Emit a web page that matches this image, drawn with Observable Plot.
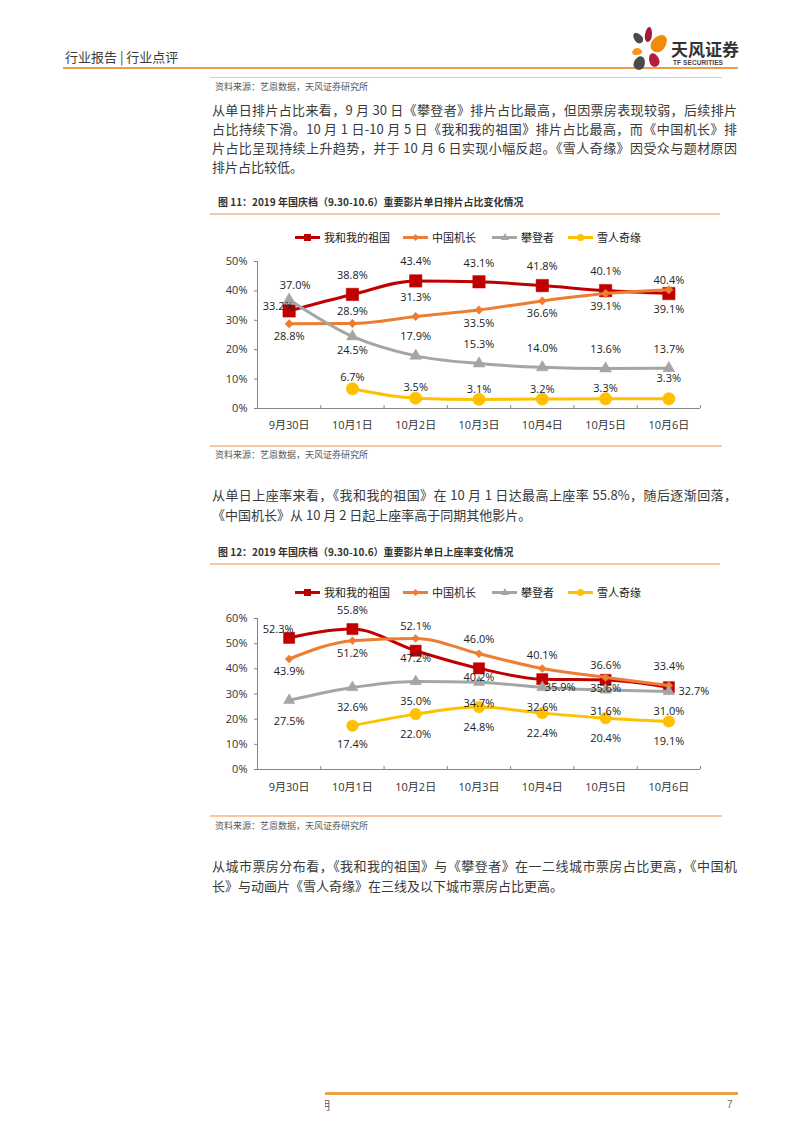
<!DOCTYPE html>
<html><head><meta charset="utf-8">
<script src="https://cdn.jsdelivr.net/npm/d3@7"></script>
<script src="https://cdn.jsdelivr.net/npm/@observablehq/plot@0.6"></script>
<style>
body{margin:0;background:#fff;}
#page{position:relative;width:802px;height:1133px;overflow:hidden;font-family:"Noto Sans CJK SC","Noto Sans",sans-serif;color:#333;background:#fff;}
.abs{position:absolute;white-space:nowrap;}
.rule{position:absolute;}
.pl{position:absolute;left:212px;width:525px;font-size:13px;height:20px;line-height:20px;text-align:justify;text-align-last:justify;white-space:nowrap;color:#3a3a3a;}
.pl.last{text-align-last:left;}
.src{position:absolute;left:215px;font-size:9px;line-height:12px;height:12px;color:#595959;white-space:nowrap;}
.ftitle{position:absolute;left:218px;font-size:10px;line-height:14px;height:14px;font-weight:bold;color:#333;white-space:nowrap;}
.petal{position:absolute;border-radius:50% 50% 50% 50% / 60% 60% 40% 40%;}
.leg{position:absolute;height:14px;display:flex;align-items:center;font-size:11px;color:#222;white-space:nowrap;}
.leg .sw{position:relative;width:25px;height:3px;margin-right:4px;}
.leg .mk{position:absolute;left:50%;top:50%;}
.chart{position:absolute;left:210px;}
.chart svg{display:block;}
</style>
</head><body>
<div id="page">
  <!-- header -->
  <div class="abs" style="left:65px;top:49px;font-size:13px;line-height:16px;color:#3a3a3a;">行业报告&nbsp;|&nbsp;行业点评</div>
  <div class="rule" style="left:63px;top:67px;width:675px;height:2px;background:#EE9D4C;"></div>
  <!-- logo -->
  <div class="petal" style="left:634px;top:32px;width:8px;height:12px;background:#4a4a4a;transform:rotate(-40deg);"></div>
  <div class="petal" style="left:645px;top:27px;width:7px;height:15px;background:#A31A32;transform:rotate(8deg);"></div>
  <div class="petal" style="left:652px;top:34px;width:14px;height:19px;background:#F08B0C;transform:rotate(40deg);"></div>
  <div class="petal" style="left:632px;top:48px;width:10px;height:7px;background:#F39A1E;transform:rotate(-10deg);"></div>
  <div class="petal" style="left:649px;top:53px;width:10px;height:14px;background:#B4203C;transform:rotate(-20deg);"></div>
  <div class="petal" style="left:634px;top:56px;width:11px;height:14px;background:#4a4a4a;transform:rotate(20deg);"></div>
  <div class="abs" style="left:671px;top:40px;font-size:17px;line-height:18px;height:18px;font-weight:bold;color:#333;">天风证券</div>
  <div class="abs" style="left:673px;top:59px;font-size:6.5px;line-height:7px;height:7px;font-weight:bold;color:#444;font-family:'Liberation Sans',sans-serif;letter-spacing:0.1px;">TF SECURITIES</div>

  <div class="rule" style="left:210px;top:77px;width:512px;height:1px;background:#F4C89E;"></div>
  <div class="src" style="top:81px;">资料来源：艺恩数据，天风证券研究所</div>

  <div class="pl" style="top:100px;">从单日排片占比来看，9 月 30 日《攀登者》排片占比最高，但因票房表现较弱，后续排片</div>
  <div class="pl" style="top:119px;">占比持续下滑。10 月 1 日-10 月 5 日《我和我的祖国》排片占比最高，而《中国机长》排</div>
  <div class="pl" style="top:138px;">片占比呈现持续上升趋势，并于 10 月 6 日实现小幅反超。《雪人奇缘》因受众与题材原因</div>
  <div class="pl last" style="top:157px;">排片占比较低。</div>

  <div class="ftitle" style="top:195px;">图 11：2019 年国庆档（9.30-10.6）重要影片单日排片占比变化情况</div>
  <div class="rule" style="left:210px;top:213px;width:510px;height:1.5px;background:#F6C7A0;"></div>
  <div id="legend1"></div>
  <div id="chart1" class="chart" style="top:250px;"></div>
  <div class="rule" style="left:210px;top:445px;width:512px;height:1.5px;background:#F6C7A0;"></div>
  <div class="src" style="top:449px;">资料来源：艺恩数据，天风证券研究所</div>

  <div class="pl" style="top:485px;">从单日上座率来看，《我和我的祖国》在 10 月 1 日达最高上座率 55.8%，随后逐渐回落，</div>
  <div class="pl last" style="top:505px;">《中国机长》从 10 月 2 日起上座率高于同期其他影片。</div>

  <div class="ftitle" style="top:545px;">图 12：2019 年国庆档（9.30-10.6）重要影片单日上座率变化情况</div>
  <div class="rule" style="left:210px;top:563px;width:510px;height:1.5px;background:#F6C7A0;"></div>
  <div id="legend2"></div>
  <div id="chart2" class="chart" style="top:605px;"></div>
  <div class="rule" style="left:210px;top:815px;width:512px;height:1.5px;background:#F6C7A0;"></div>
  <div class="src" style="top:820px;">资料来源：艺恩数据，天风证券研究所</div>

  <div class="pl" style="top:856px;">从城市票房分布看，《我和我的祖国》与《攀登者》在一二线城市票房占比更高，《中国机</div>
  <div class="pl last" style="top:876px;">长》与动画片《雪人奇缘》在三线及以下城市票房占比更高。</div>

  <!-- footer -->
  <div class="rule" style="left:325px;top:1092px;width:413px;height:2.5px;background:#EEA046;"></div>
  <div class="abs" style="left:325px;top:1098px;width:6px;height:14px;overflow:hidden;"><span style="position:absolute;left:-6px;top:0;font-size:11px;line-height:14px;color:#555;">明</span></div>
  <div class="abs" style="left:727px;top:1098px;font-size:10px;line-height:14px;color:#666;font-family:'Liberation Sans',sans-serif;">7</div>
</div>

<script>
// ---------- data ----------
const days = ["9月30日", "10月1日", "10月2日", "10月3日", "10月4日", "10月5日", "10月6日"];
const seriesNames = ["我和我的祖国", "中国机长", "攀登者", "雪人奇缘"];

// 图11 单日排片占比 (%)
const share_wohe    = [33.2, 38.8, 43.4, 43.1, 41.8, 40.1, 39.1];
const share_jizhang = [28.8, 28.9, 31.3, 33.5, 36.6, 39.1, 40.4];
const share_pandeng = [37.0, 24.5, 17.9, 15.3, 14.0, 13.6, 13.7];
const share_xueren  = [null, 6.7, 3.5, 3.1, 3.2, 3.3, 3.3];

// 图12 单日上座率 (%)
const occ_wohe    = [52.3, 55.8, 47.2, 40.2, 35.9, 35.6, 32.7];
const occ_jizhang = [43.9, 51.2, 52.1, 46.0, 40.1, 36.6, 33.4];
const occ_pandeng = [27.5, 32.6, 35.0, 34.7, 32.6, 31.6, 31.0];
const occ_xueren  = [null, 17.4, 22.0, 24.8, 22.4, 20.4, 19.1];

const yTicks1 = [0, 10, 20, 30, 40, 50];
const yTicks2 = [0, 10, 20, 30, 40, 50, 60];

// ---------- styles ----------
const colors = ["#C00000", "#ED7D31", "#A5A5A5", "#FFC000"];
const symbols = ["square", "diamond2", "triangle", "circle"];
const axisColor = "#868686";
const fontStack = "'Open Sans','Noto Sans CJK SC',sans-serif";

// label offsets [dx, dy] in px per series / per day
const labelOffsets1 = [
  [[-11,-4],[0,-19],[0,-19],[0,-18],[0,-19],[0,-19],[0,16]],
  [[0,13],[0,-12],[0,-19],[0,13],[0,13],[0,13],[0,-9]],
  [[6,-14],[0,14],[0,-19],[0,-19],[0,-19],[0,-19],[0,-19]],
  [null,[0,-11],[0,-11],[0,-10],[0,-10],[0,-10],[0,-20]]
];
const labelOffsets2 = [
  [[-11,-8],[0,-19],[0,8],[0,9],[18,8],[0,9],[25,4]],
  [[0,12],[0,13],[0,-12],[0,-14],[0,-13],[0,-12],[0,-19]],
  [[0,21],[0,20],[0,20],[0,21],[0,20],[0,21],[0,20]],
  [null,[0,19],[0,20],[0,20],[0,20],[0,20],[0,20]]
];

function makeChart(values, yTicks, opts) {
  const yMax = yTicks[yTicks.length - 1];
  const rows = [];
  values.forEach((arr, si) => arr.forEach((v, i) => { if (v != null) rows.push({s: seriesNames[si], si, i, v}); }));
  const idx = days.map((d, i) => i);
  const bounds = days.map((d, i) => i + 0.5);
  const marks = [
    Plot.ruleY([0], {stroke: axisColor, strokeWidth: 1}),
    Plot.ruleX([-0.5], {stroke: axisColor, strokeWidth: 1}),
    Plot.ruleX(bounds, {x: d => d, y1: 0, y2: yMax * 0.02, stroke: axisColor}),
    Plot.axisY(yTicks, {tickFormat: d => d + "%", tickSize: 3, tickPadding: 7, stroke: axisColor, fill: "#333", label: null, fontSize: 11}),
    Plot.axisX(idx, {tickFormat: i => days[i], tickSize: 0, tickPadding: opts.xPad, fill: "#333", label: null, fontSize: 11})
  ];
  seriesNames.forEach((s, si) => {
    const data = rows.filter(r => r.si === si);
    marks.push(Plot.line(data, {x: "i", y: "v", stroke: colors[si], strokeWidth: 3, curve: "monotone-x"}));
    marks.push(Plot.dot(data, {x: "i", y: "v", symbol: symbols[si], r: opts.radii[si], fill: colors[si], stroke: colors[si], strokeWidth: 0.5}));
  });
  rows.forEach(r => {
    const [dx, dy] = opts.offsets[r.si][r.i];
    marks.push(Plot.text([r], {x: "i", y: "v", text: d => d.v.toFixed(1) + "%", dx, dy, fontSize: 11, fill: "#222"}));
  });
  return Plot.plot({
    width: 520, height: opts.height,
    marginLeft: 47, marginRight: 30, marginTop: opts.marginTop, marginBottom: opts.marginBottom,
    x: {type: "linear", domain: [-0.5, 6.5], label: null},
    y: {domain: [0, yMax], label: null},
    style: {fontFamily: fontStack, fontSize: "11px", color: "#333", background: "transparent", overflow: "visible"},
    marks
  });
}

function makeLegend(el, top) {
  el.style.cssText = "position:absolute;left:0;top:0;";
  const lefts = [295, 403, 492, 568];
  const mk = [
    "width:7px;height:7px;margin:-3.5px 0 0 -3.5px;",
    "width:5px;height:5px;margin:-2.5px 0 0 -2.5px;transform:rotate(45deg);",
    "width:0;height:0;border-left:4px solid transparent;border-right:4px solid transparent;border-bottom:7px solid " + colors[2] + ";margin:-4px 0 0 -4px;",
    "width:7px;height:7px;margin:-3.5px 0 0 -3.5px;border-radius:50%;"
  ];
  seriesNames.forEach((s, si) => {
    const item = document.createElement("div");
    item.className = "leg";
    item.style.left = lefts[si] + "px";
    item.style.top = (top - 7) + "px";
    const sw = document.createElement("div");
    sw.className = "sw";
    sw.style.background = colors[si];
    const m = document.createElement("div");
    m.className = "mk";
    m.style.cssText = mk[si] + (si === 2 ? "" : "background:" + colors[si] + ";");
    sw.appendChild(m);
    const t = document.createElement("span");
    t.textContent = s;
    item.appendChild(sw);
    item.appendChild(t);
    el.appendChild(item);
  });
}

makeLegend(document.getElementById("legend1"), 237);
makeLegend(document.getElementById("legend2"), 592);

document.getElementById("chart1").appendChild(
  makeChart([share_wohe, share_jizhang, share_pandeng, share_xueren], yTicks1,
    {height: 190, marginTop: 11, marginBottom: 32, xPad: 13, radii: [7, 3.8, 4.4, 6.2], offsets: labelOffsets1})
);
document.getElementById("chart2").appendChild(
  makeChart([occ_wohe, occ_jizhang, occ_pandeng, occ_xueren], yTicks2,
    {height: 200, marginTop: 13, marginBottom: 36, xPad: 14, radii: [6.3, 3.6, 4.2, 5.8], offsets: labelOffsets2})
);
</script>
</body></html>
